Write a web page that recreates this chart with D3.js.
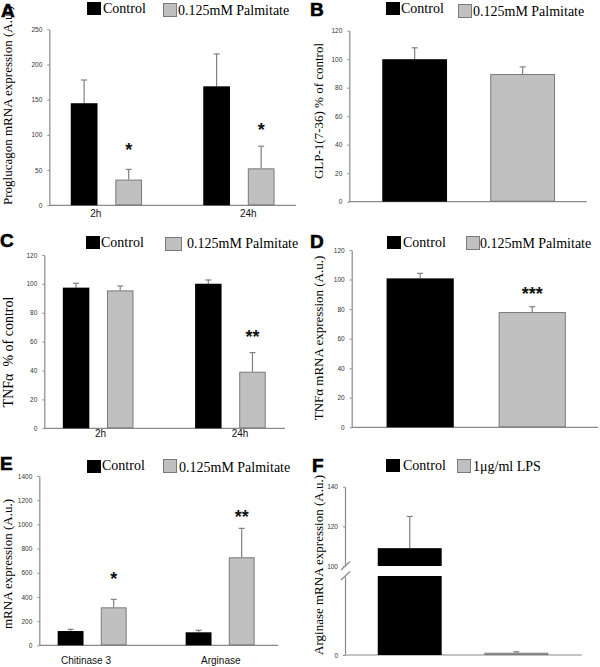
<!DOCTYPE html>
<html>
<head>
<meta charset="utf-8">
<script src="https://cdn.jsdelivr.net/npm/d3@7"></script>
<style>
  html, body { margin: 0; padding: 0; background: #fff; }
  svg { display: block; }
  .serif { font-family: "Liberation Serif", "Times New Roman", serif; }
  .sans { font-family: "Liberation Sans", Arial, Helvetica, sans-serif; }
</style>
</head>
<body>
<svg id="chart" width="600" height="667"></svg>
<script>
// ---------------- DATA ----------------
const seriesPalm = ["Control", "0.125mM Palmitate"];
const seriesLPS = ["Control", "1\u03bcg/ml LPS"];

// Panel A: Proglucagon mRNA expression
const catsA = ["2h", "24h"];
const controlA = [145, 169];
const controlErrA = [33, 46];
const palmA = [36.5, 52.5];
const palmErrA = [14.5, 31.5];
const starsA = ["*", "*"];
const starPosA = [84, 112];
const ticksA = [0, 50, 100, 150, 200, 250];

// Panel B: GLP-1(7-36) % of control
const catsB = [""];
const controlB = [100];
const controlErrB = [8];
const palmB = [89.6];
const palmErrB = [5];
const starsB = [""];
const starPosB = [null];
const ticksB = [0, 20, 40, 60, 80, 100, 120];

// Panel C: TNFα % of control
const catsC = ["2h", "24h"];
const controlC = [97.4, 100.1];
const controlErrC = [3, 2.6];
const palmC = [95.5, 39.2];
const palmErrC = [3, 13.2];
const starsC = ["", "**"];
const starPosC = [null, 65.8];
const ticksC = [0, 20, 40, 60, 80, 100, 120];

// Panel D: TNFα mRNA expression
const catsD = [""];
const controlD = [100.8];
const controlErrD = [3.4];
const palmD = [78];
const palmErrD = [3.6];
const starsD = ["***"];
const starPosD = [92.7];
const ticksD = [0, 20, 40, 60, 80, 100, 120];

// Panel E: mRNA expression
const catsE = ["Chitinase 3", "Arginase"];
const controlE = [118, 107.5];
const controlErrE = [14, 16.5];
const palmE = [314, 728];
const palmErrE = [66, 239];
const starsE = ["*", "**"];
const starPosE = [581, 1094];
const ticksE = [0, 200, 400, 600, 800, 1000, 1200, 1400];

// Panel F: Arginase mRNA expression (broken axis)
const controlF = [109];
const controlErrF = [16];
const lpsF = [2.9];
const lpsErrF = [1.2];
const ticksFUpper = [100, 120, 140];
const ticksFLower = [0];

// ---------------- STYLE ----------------
const BLACK = "#000";
const GRAY_FILL = "#c0c0c0";
const GRAY_STROKE = "#7a7a7a";
const AXIS = "#8a8a8a";
const ERR = "#808080";
const TICK_TXT = "#333";
const fmt = d3.format("d");

const svg = d3.select("#chart");

function legend(g, L, names) {
  g.append("rect").attr("x", L.bx).attr("y", L.by).attr("width", 14).attr("height", 13).attr("fill", BLACK);
  g.append("text").attr("class", "serif").attr("x", L.tx1).attr("y", L.ty1)
    .attr("font-size", 14).attr("fill", "#000").text(names[0]);
  g.append("rect").attr("x", L.gx + 0.5).attr("y", L.gy + 0.5).attr("width", L.gw || 13).attr("height", 13)
    .attr("fill", GRAY_FILL).attr("stroke", GRAY_STROKE).attr("stroke-width", 1);
  g.append("text").attr("class", "serif").attr("x", L.tx2).attr("y", L.ty2)
    .attr("font-size", 14).attr("fill", "#000").text(names[1]);
}

function letterAndTitle(g, cfg) {
  g.append("text").attr("class", "sans").attr("x", cfg.letter[0]).attr("y", cfg.letter[1])
    .attr("font-size", 19).attr("font-weight", "bold").attr("fill", "#000")
    .attr("stroke", "#000").attr("stroke-width", 0.6).text(cfg.letterText);
  g.append("text").attr("class", "serif")
    .attr("transform", `translate(${cfg.title[0]},${cfg.title[1]}) rotate(-90)`)
    .attr("text-anchor", "middle").attr("font-size", cfg.titleSize || 13)
    .attr("fill", "#000").style("white-space", "pre").text(cfg.titleText);
}

function drawBar(g, x, w, yTop, yBot, isControl) {
  if (isControl) {
    g.append("rect").attr("x", x).attr("y", yTop).attr("width", w).attr("height", yBot - yTop).attr("fill", BLACK);
  } else {
    g.append("rect").attr("x", x + 0.5).attr("y", yTop + 0.5).attr("width", w - 1).attr("height", Math.max(0, yBot - yTop - 1))
      .attr("fill", GRAY_FILL).attr("stroke", GRAY_STROKE).attr("stroke-width", 1);
  }
}

function errBar(g, cx, yFrom, yTo) {
  g.append("line").attr("x1", cx).attr("x2", cx).attr("y1", yFrom).attr("y2", yTo)
    .attr("stroke", ERR).attr("stroke-width", 1.2);
  g.append("line").attr("x1", cx - 3).attr("x2", cx + 3).attr("y1", yTo).attr("y2", yTo)
    .attr("stroke", ERR).attr("stroke-width", 1.2);
}

function styleAxis(sel) {
  sel.select(".domain").attr("stroke", AXIS).attr("stroke-width", 1.2);
  sel.selectAll(".tick line").attr("stroke", AXIS);
  sel.selectAll(".tick text").attr("fill", TICK_TXT).attr("font-size", 6.5)
    .attr("font-family", "Liberation Sans, Arial, sans-serif");
}

function drawPanel(cfg) {
  const g = svg.append("g");
  const y = d3.scaleLinear().domain(cfg.yDomain).range([cfg.y0, cfg.yTop]);
  const idx = cfg.cats.map((c, i) => i);
  const x0 = d3.scaleBand().domain(idx).range([cfg.ax, cfg.xEnd])
    .paddingInner(cfg.pi).paddingOuter(cfg.po).align(cfg.align);
  const x1 = d3.scaleBand().domain([0, 1]).range([0, x0.bandwidth()]).paddingInner(0.4);

  // y axis
  const ya = g.append("g").attr("transform", `translate(${cfg.ax},0)`)
    .call(d3.axisLeft(y).tickValues(cfg.ticks).tickFormat(fmt).tickSize(2).tickSizeOuter(0).tickPadding(5));
  styleAxis(ya);

  // x axis line
  g.append("line").attr("x1", cfg.ax).attr("x2", cfg.xEnd).attr("y1", cfg.y0).attr("y2", cfg.y0)
    .attr("stroke", AXIS).attr("stroke-width", 1.2);

  const series = [
    { vals: cfg.control, errs: cfg.controlErr, ctrl: true },
    { vals: cfg.treat, errs: cfg.treatErr, ctrl: false }
  ];
  series.forEach((s, si) => {
    idx.forEach(i => {
      const bx = x0(i) + x1(si);
      const w = x1.bandwidth();
      const top = y(s.vals[i]);
      errBar(g, bx + w / 2, top, y(s.vals[i] + s.errs[i]));
      drawBar(g, bx, w, top, cfg.y0, s.ctrl);
    });
  });

  // significance stars
  idx.forEach(i => {
    if (cfg.stars[i]) {
      const cx = x0(i) + x1(1) + x1.bandwidth() / 2;
      g.append("text").attr("class", "sans").attr("x", cx).attr("y", y(cfg.starPos[i]) + 10)
        .attr("text-anchor", "middle").attr("font-size", 18).attr("font-weight", "bold")
        .attr("fill", "#111").text(cfg.stars[i]);
    }
  });

  // category labels
  if (cfg.labelRange) {
    const xl = d3.scalePoint().domain(cfg.cats).range(cfg.labelRange);
    cfg.cats.forEach(c => {
      g.append("text").attr("class", "sans").attr("x", xl(c)).attr("y", cfg.labelY)
        .attr("text-anchor", "middle").attr("font-size", 10).attr("fill", "#111").text(c);
    });
  }

  legend(g, cfg.legend, cfg.names);
  letterAndTitle(g, cfg);
}

// Panel A
drawPanel({
  cats: catsA, control: controlA, controlErr: controlErrA, treat: palmA, treatErr: palmErrA,
  stars: starsA, starPos: starPosA, ticks: ticksA, yDomain: [0, 250],
  ax: 49.3, y0: 205.3, yTop: 29.3, xEnd: 296, pi: 0.462, po: 0.162, align: 0.5,
  labelRange: [95.8, 248.3], labelY: 216.5,
  legend: { bx: 87, by: 2, tx1: 103, ty1: 13, gx: 163, gy: 3, tx2: 178, ty2: 15 },
  names: seriesPalm, letterText: "A", letter: [1, 16.5],
  title: [12, 105.5], titleText: "Proglucagon mRNA expression (A.u.)"
});

// Panel B
drawPanel({
  cats: catsB, control: controlB, controlErr: controlErrB, treat: palmB, treatErr: palmErrB,
  stars: starsB, starPos: starPosB, ticks: ticksB, yDomain: [0, 120],
  ax: 349.3, y0: 201.7, yTop: 30.7, xEnd: 586.7, pi: 0, po: 0.187, align: 0.51,
  labelRange: null,
  legend: { bx: 386, by: 2, tx1: 401, ty1: 12.5, gx: 458, gy: 4, tx2: 473, ty2: 16 },
  names: seriesPalm, letterText: "B", letter: [310, 16],
  title: [323, 111], titleText: "GLP-1(7-36) % of control"
});

// Panel C
drawPanel({
  cats: catsC, control: controlC, controlErr: controlErrC, treat: palmC, treatErr: palmErrC,
  stars: starsC, starPos: starPosC, ticks: ticksC, yDomain: [0, 120],
  ax: 44.3, y0: 428.3, yTop: 255, xEnd: 285, pi: 0.466, po: 0.143, align: 0.49,
  labelRange: [100.5, 240], labelY: 437,
  legend: { bx: 86, by: 236, tx1: 101, ty1: 246.5, gx: 165, gy: 237, gw: 16, tx2: 187, ty2: 248 },
  names: seriesPalm, letterText: "C", letter: [0, 247],
  title: [13, 352], titleText: "TNF\u03b1  % of control", titleSize: 14
});

// Panel D
drawPanel({
  cats: catsD, control: controlD, controlErr: controlErrD, treat: palmD, treatErr: palmErrD,
  stars: starsD, starPos: starPosD, ticks: ticksD, yDomain: [0, 120],
  ax: 351.7, y0: 427.3, yTop: 250, xEnd: 598, pi: 0, po: 0.187, align: 0.52,
  labelRange: null,
  legend: { bx: 387, by: 236, tx1: 403, ty1: 246.5, gx: 466, gy: 236, tx2: 480, ty2: 248 },
  names: seriesPalm, letterText: "D", letter: [310, 248],
  title: [323, 338], titleText: "TNF\u03b1 mRNA expression (A.u.)"
});

// Panel E
drawPanel({
  cats: catsE, control: controlE, controlErr: controlErrE, treat: palmE, treatErr: palmErrE,
  stars: starsE, starPos: starPosE, ticks: ticksE, yDomain: [0, 1400],
  ax: 39.3, y0: 645.3, yTop: 476, xEnd: 278, pi: 0.461, po: 0.163, align: 0.44,
  labelRange: [86, 220.8], labelY: 664,
  legend: { bx: 87, by: 460, tx1: 102, ty1: 469.5, gx: 163, gy: 459, tx2: 179, ty2: 471.5 },
  names: seriesPalm, letterText: "E", letter: [0, 470],
  title: [12, 564], titleText: "mRNA expression (A.u.)"
});

// Panel F (broken y-axis)
(function () {
  const g = svg.append("g");
  const ax = 345, y0 = 655, xEnd = 581.7;
  const yUp = d3.scaleLinear().domain([100, 140]).range([566, 486.7]);
  const yLo = d3.scaleLinear().domain([0, 100]).range([y0, 576]);
  const x0 = d3.scaleBand().domain([0]).range([ax, xEnd]).paddingInner(0).paddingOuter(0.194).align(0.495);
  const x1 = d3.scaleBand().domain([0, 1]).range([0, x0.bandwidth()]).paddingInner(0.4);

  const aUp = g.append("g").attr("transform", `translate(${ax},0)`)
    .call(d3.axisLeft(yUp).tickValues(ticksFUpper).tickFormat(fmt).tickSize(2).tickSizeOuter(0).tickPadding(5));
  styleAxis(aUp);
  const aLo = g.append("g").attr("transform", `translate(${ax},0)`)
    .call(d3.axisLeft(yLo).tickValues(ticksFLower).tickFormat(fmt).tickSize(2).tickSizeOuter(0).tickPadding(5));
  styleAxis(aLo);
  // break marks
  [yUp(100), yLo(100)].forEach(yy => {
    g.append("line").attr("x1", ax - 4).attr("x2", ax + 5).attr("y1", yy + 4).attr("y2", yy - 4.5)
      .attr("stroke", AXIS).attr("stroke-width", 1.2);
  });

  g.append("line").attr("x1", ax).attr("x2", xEnd).attr("y1", y0).attr("y2", y0)
    .attr("stroke", AXIS).attr("stroke-width", 1.2);

  // Control bar (broken)
  const w = x1.bandwidth();
  const cx0 = x0(0) + x1(0);
  errBar(g, cx0 + w / 2, yUp(controlF[0]), yUp(controlF[0] + controlErrF[0]));
  drawBar(g, cx0, w, yUp(controlF[0]), yUp(100), true);
  drawBar(g, cx0, w, yLo(100), y0, true);

  // LPS bar
  const cx1 = x0(0) + x1(1);
  errBar(g, cx1 + w / 2, yLo(lpsF[0]), yLo(lpsF[0] + lpsErrF[0]));
  drawBar(g, cx1, w, yLo(lpsF[0]), y0, false);

  legend(g, { bx: 386, by: 459, tx1: 403, ty1: 469.5, gx: 457, gy: 459, tx2: 473, ty2: 471 }, seriesLPS);
  letterAndTitle(g, {
    letterText: "F", letter: [312, 472],
    title: [323, 565], titleText: "Arginase mRNA expression (A.u.)"
  });
})();
</script>
</body>
</html>
